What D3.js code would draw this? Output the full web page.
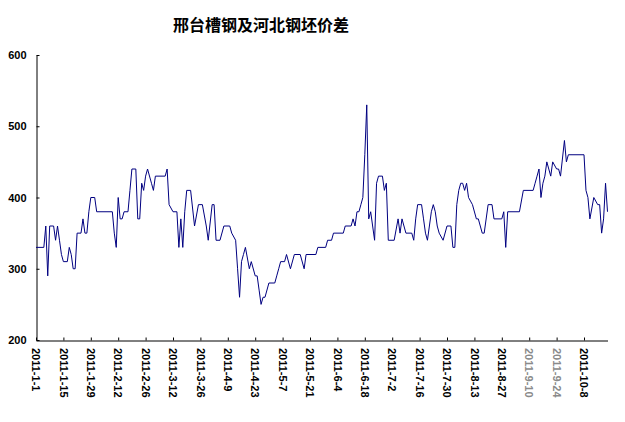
<!DOCTYPE html>
<html>
<head>
<meta charset="utf-8">
<script src="https://cdn.jsdelivr.net/npm/d3@7/dist/d3.min.js"></script>
<style>
  html, body { margin: 0; padding: 0; background: #fff; }
  svg { display: block; }
</style>
</head>
<body>
<svg id="chart" width="625" height="422"></svg>
<script>
const title = "邢台槽钢及河北钢坯价差";

const dates = [
  "2011-01-01","2011-01-05","2011-01-06","2011-01-07","2011-01-08","2011-01-10","2011-01-11","2011-01-12","2011-01-13","2011-01-14",
  "2011-01-15","2011-01-17","2011-01-18","2011-01-19","2011-01-20","2011-01-21","2011-01-22","2011-01-24","2011-01-25","2011-01-26",
  "2011-01-27","2011-01-28","2011-01-29","2011-01-31","2011-02-01","2011-02-09","2011-02-10","2011-02-11","2011-02-12","2011-02-13",
  "2011-02-14","2011-02-15","2011-02-17","2011-02-18","2011-02-19","2011-02-21","2011-02-22","2011-02-23","2011-02-24","2011-02-25",
  "2011-02-26","2011-02-27","2011-03-01","2011-03-02","2011-03-03","2011-03-08","2011-03-09","2011-03-10","2011-03-12","2011-03-14",
  "2011-03-15","2011-03-16","2011-03-17","2011-03-18","2011-03-19","2011-03-21","2011-03-23","2011-03-25","2011-03-27","2011-03-29",
  "2011-03-30","2011-04-01","2011-04-02","2011-04-03","2011-04-05","2011-04-07","2011-04-10","2011-04-11","2011-04-13","2011-04-14",
  "2011-04-15","2011-04-16","2011-04-17","2011-04-18","2011-04-20","2011-04-21","2011-04-23","2011-04-24","2011-04-25","2011-04-26",
  "2011-04-27","2011-04-28","2011-04-30","2011-05-03","2011-05-04","2011-05-05","2011-05-06","2011-05-08","2011-05-09","2011-05-11",
  "2011-05-13","2011-05-16","2011-05-18","2011-05-19","2011-05-24","2011-05-25","2011-05-29","2011-05-30","2011-06-01","2011-06-02",
  "2011-06-07","2011-06-08","2011-06-11","2011-06-12","2011-06-13","2011-06-14","2011-06-15","2011-06-16","2011-06-17","2011-06-18",
  "2011-06-19","2011-06-20","2011-06-21","2011-06-22","2011-06-23","2011-06-24","2011-06-25","2011-06-27","2011-06-28","2011-06-29",
  "2011-06-30","2011-07-03","2011-07-05","2011-07-06","2011-07-07","2011-07-09","2011-07-12","2011-07-13","2011-07-14","2011-07-15",
  "2011-07-17","2011-07-18","2011-07-19","2011-07-20","2011-07-21","2011-07-22","2011-07-23","2011-07-24","2011-07-25","2011-07-26",
  "2011-07-28","2011-07-30","2011-08-01","2011-08-02","2011-08-03","2011-08-04","2011-08-05","2011-08-06","2011-08-07","2011-08-08",
  "2011-08-09","2011-08-10","2011-08-11","2011-08-12","2011-08-14","2011-08-15","2011-08-17","2011-08-18","2011-08-20","2011-08-22",
  "2011-08-23","2011-08-27","2011-08-28","2011-08-29","2011-08-30","2011-09-05","2011-09-07","2011-09-12","2011-09-13","2011-09-14",
  "2011-09-15","2011-09-16","2011-09-17","2011-09-18","2011-09-19","2011-09-21","2011-09-22","2011-09-24","2011-09-25","2011-09-26",
  "2011-09-28","2011-09-29","2011-09-30","2011-10-08","2011-10-09","2011-10-10","2011-10-11","2011-10-13","2011-10-15","2011-10-16",
  "2011-10-17","2011-10-18","2011-10-19","2011-10-20"
];

const values = [
  330,330,360,290,360,360,340,360,340,320,
  310,310,330,320,300,300,350,350,370,350,
  350,380,400,400,380,380,350,330,400,370,
  370,380,380,410,440,440,370,370,420,410,
  430,440,420,410,430,430,440,390,380,380,
  330,370,330,380,410,410,360,390,390,360,
  340,390,390,340,340,360,360,350,340,300,
  260,310,320,330,300,310,290,290,270,250,
  260,260,280,280,290,300,310,310,320,300,
  320,320,300,320,320,330,330,340,340,350,
  350,360,360,370,360,380,380,390,400,460,
  530,370,380,360,340,420,430,430,410,420,
  340,340,370,350,370,350,350,340,370,390,
  390,370,350,340,360,380,390,380,360,350,
  340,360,360,330,330,390,410,420,420,410,
  420,400,395,390,370,370,350,350,390,390,
  370,370,380,330,380,380,410,410,420,430,
  440,400,420,430,450,430,450,440,440,430,
  480,450,460,460,410,400,370,400,390,390,
  350,370,420,380
];

const tickLabels = [
  "2011-1-1","2011-1-15","2011-1-29","2011-2-12","2011-2-26","2011-3-12","2011-3-26",
  "2011-4-9","2011-4-23","2011-5-7","2011-5-21","2011-6-4","2011-6-18","2011-7-2",
  "2011-7-16","2011-7-30","2011-8-13","2011-8-27","2011-9-10","2011-9-24","2011-10-8"
];

const yTicks = [200, 300, 400, 500, 600];
const xStart = "2011-01-01";
const xEnd = "2011-10-20";

const parseISO = d3.timeParse("%Y-%m-%d");
const parseLbl = d3.timeParse("%Y-%-m-%-d");

const data = dates.map((d, i) => ({ date: parseISO(d), value: values[i] }));

const svg = d3.select("#chart");

const x = d3.scaleTime()
  .domain([parseISO(xStart), parseISO(xEnd)])
  .range([36, 607.5]);

const y = d3.scaleLinear()
  .domain([200, 600])
  .range([340, 55]);

// Title
svg.append("text")
  .attr("x", 261)
  .attr("y", 31)
  .attr("text-anchor", "middle")
  .style("font-family", "'Noto Sans CJK SC', sans-serif")
  .style("font-weight", "bold")
  .style("font-size", "16px")
  .attr("fill", "#000")
  .text(title);

// Y axis
const yAxis = d3.axisLeft(y)
  .tickValues(yTicks)
  .tickFormat(d3.format("d"))
  .tickSizeInner(-3)
  .tickSizeOuter(0)
  .tickPadding(10);

const gy = svg.append("g")
  .attr("transform", "translate(36.5,0)")
  .call(yAxis);
gy.select(".domain").attr("stroke", "#000");
gy.selectAll(".tick line").attr("stroke", "#000");
gy.selectAll(".tick text")
  .style("font-family", "'Liberation Sans', Arial, sans-serif")
  .style("font-weight", "bold")
  .style("font-size", "11px")
  .attr("fill", "#000");

// X axis
const xAxis = d3.axisBottom(x)
  .tickValues(tickLabels.map(parseLbl))
  .tickFormat("")
  .tickSizeInner(-3)
  .tickSizeOuter(0);

const gx = svg.append("g")
  .attr("transform", "translate(0,340.5)")
  .call(xAxis);
gx.select(".domain").attr("stroke", "#000");
gx.selectAll(".tick line").attr("stroke", "#000");

const grey = new Set(["2011-9-10", "2011-9-24"]);
svg.append("g")
  .selectAll("text")
  .data(tickLabels)
  .join("text")
  .attr("transform", d => `translate(${x(parseLbl(d))},348) rotate(90)`)
  .attr("dy", "0.35em")
  .attr("text-anchor", "start")
  .style("font-family", "'Liberation Sans', Arial, sans-serif")
  .style("font-weight", "bold")
  .style("font-size", "11px")
  .attr("fill", d => grey.has(d) ? "#8a8a8a" : "#000")
  .text(d => d);

// Line
const line = d3.line()
  .x(d => x(d.date))
  .y(d => y(d.value));

svg.append("path")
  .datum(data)
  .attr("fill", "none")
  .attr("stroke", "#000080")
  .attr("stroke-width", 1)
  .attr("stroke-linejoin", "miter")
  .attr("d", line);
</script>
</body>
</html>
